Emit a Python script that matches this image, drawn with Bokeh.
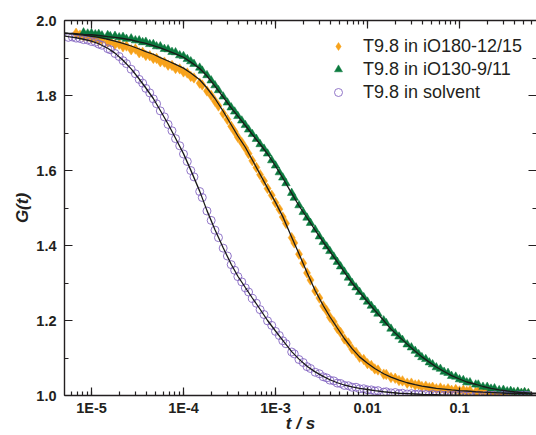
from bokeh.plotting import figure
from bokeh.models import (Range1d, LogAxis, LinearAxis, LogTicker, SingleIntervalTicker,
                          PrintfTickFormatter, CustomJSTickFormatter, Legend, LegendItem)
from bokeh.embed import file_html
from bokeh.resources import INLINE

nan = float("nan")

# measured lag times / s (one row per decade)
t_data = [5.6e-6, 6.2e-6, 6.8e-6, 7.5e-6, 8.2e-6, 9.1e-6,
          1e-5, 1.1e-5, 1.2e-5, 1.3e-5, 1.5e-5, 1.6e-5, 1.8e-5, 2e-5, 2.2e-5, 2.4e-5, 2.7e-5, 3e-5,
          3.3e-5, 3.6e-5, 3.9e-5, 4.3e-5, 4.7e-5, 5.1e-5, 5.6e-5, 6.2e-5, 6.8e-5, 7.5e-5, 8.2e-5, 9.1e-5,
          1e-4, 1.1e-4, 1.2e-4, 1.3e-4, 1.5e-4, 1.6e-4, 1.8e-4, 2e-4, 2.2e-4, 2.4e-4, 2.7e-4, 3e-4,
          3.3e-4, 3.6e-4, 3.9e-4, 4.3e-4, 4.7e-4, 5.1e-4, 5.6e-4, 6.2e-4, 6.8e-4, 7.5e-4, 8.2e-4, 9.1e-4,
          1e-3, 1.1e-3, 1.2e-3, 1.3e-3, 1.5e-3, 1.6e-3, 1.8e-3, 2e-3, 2.2e-3, 2.4e-3, 2.7e-3, 3e-3,
          3.3e-3, 3.6e-3, 3.9e-3, 4.3e-3, 4.7e-3, 5.1e-3, 5.6e-3, 6.2e-3, 6.8e-3, 7.5e-3, 8.2e-3, 9.1e-3,
          0.01, 0.011, 0.012, 0.013, 0.015, 0.016, 0.018, 0.02, 0.022, 0.024, 0.027, 0.03,
          0.033, 0.036, 0.039, 0.043, 0.047, 0.051, 0.056, 0.062, 0.068, 0.075, 0.082, 0.091,
          0.1, 0.11, 0.12, 0.13, 0.15, 0.16, 0.18, 0.2, 0.22, 0.24, 0.27, 0.3,
          0.33, 0.36, 0.39, 0.43, 0.47, 0.51, 0.56]

# T9.8 in iO180-12/15 (orange diamonds)
g_orange = [nan, nan, 1.966, 1.961, 1.958, 1.957,
            1.952, 1.953, 1.947, 1.949, 1.942, 1.944, 1.936, 1.937, 1.930, 1.932, 1.922, 1.924,
            1.914, 1.915, 1.907, 1.906, 1.899, 1.899, 1.890, 1.889, 1.881, 1.880, 1.872, 1.871,
            1.863, 1.860, 1.851, 1.847, 1.833, 1.828, 1.812, 1.800, 1.785, 1.772, 1.752, 1.736,
            1.718, 1.704, 1.689, 1.675, 1.660, 1.645, 1.626, 1.608, 1.589, 1.572, 1.552, 1.534,
            1.514, 1.497, 1.476, 1.459, 1.421, 1.407, 1.377, 1.353, 1.327, 1.308, 1.279, 1.260,
            1.239, 1.226, 1.209, 1.196, 1.179, 1.168, 1.151, 1.140, 1.124, 1.115, 1.102, 1.096,
            1.085, 1.080, 1.071, 1.068, 1.057, 1.056, 1.048, 1.046, 1.040, 1.039, 1.033, 1.033,
            1.028, 1.029, 1.024, 1.025, 1.021, 1.022, 1.018, 1.020, 1.016, 1.018, 1.014, 1.016,
            1.012, 1.014, 1.011, 1.013, 1.009, 1.011, 1.008, 1.010, 1.007, 1.009, 1.006, 1.008,
            1.005, 1.007, 1.005, 1.007, 1.004, 1.006, 1.004]

# T9.8 in iO130-9/11 (green triangles)
g_green = [nan, nan, nan, nan, 1.968, 1.965,
           1.966, 1.963, 1.964, 1.960, 1.961, 1.958, 1.959, 1.955, 1.956, 1.951, 1.952, 1.947,
           1.947, 1.942, 1.943, 1.937, 1.937, 1.931, 1.931, 1.924, 1.923, 1.916, 1.915, 1.907,
           1.905, 1.897, 1.891, 1.884, 1.874, 1.866, 1.854, 1.840, 1.827, 1.814, 1.797, 1.781,
           1.768, 1.757, 1.745, 1.733, 1.721, 1.709, 1.697, 1.684, 1.670, 1.658, 1.645, 1.627,
           1.613, 1.595, 1.581, 1.566, 1.540, 1.527, 1.507, 1.489, 1.474, 1.460, 1.442, 1.424,
           1.409, 1.397, 1.385, 1.370, 1.356, 1.344, 1.330, 1.314, 1.300, 1.288, 1.276, 1.262,
           1.250, 1.239, 1.228, 1.218, 1.200, 1.193, 1.178, 1.166, 1.157, 1.148, 1.136, 1.128,
           1.119, 1.110, 1.102, 1.097, 1.088, 1.083, 1.075, 1.071, 1.063, 1.060, 1.052, 1.050,
           1.043, 1.041, 1.035, 1.035, 1.029, 1.029, 1.023, 1.023, 1.018, 1.019, 1.014, 1.015,
           1.011, 1.012, 1.009, 1.010, 1.007, 1.009, 1.006]

# T9.8 in solvent (purple open circles)
g_purple = [1.955, 1.956, 1.953, 1.952, 1.949, 1.948,
            1.944, 1.942, 1.937, 1.934, 1.925, 1.922, 1.912, 1.904, 1.893, 1.885, 1.870, 1.858,
            1.843, 1.833, 1.819, 1.807, 1.791, 1.778, 1.759, 1.743, 1.723, 1.706, 1.685, 1.666,
            1.644, 1.624, 1.600, 1.583, 1.544, 1.528, 1.492, 1.467, 1.441, 1.421, 1.393, 1.372,
            1.349, 1.334, 1.317, 1.303, 1.287, 1.276, 1.259, 1.246, 1.229, 1.216, 1.199, 1.187,
            1.171, 1.160, 1.146, 1.138, 1.116, 1.111, 1.096, 1.088, 1.077, 1.072, 1.062, 1.058,
            1.050, 1.047, 1.041, 1.039, 1.033, 1.032, 1.027, 1.026, 1.022, 1.022, 1.018, 1.018,
            1.015, 1.015, 1.012, 1.013, 1.009, 1.010, 1.007, 1.008, 1.005, 1.006, 1.004, 1.005,
            1.003, 1.004, 1.002, 1.003, 1.001, 1.003, 1.001, 1.002, 1.000, 1.002, 1.000, 1.002,
            1.000, 1.001, 0.999, 1.001, 1.000, 1.001, 0.999, 1.001, 1.000, 1.001, 0.999, 1.001,
            1.000, 1.001, 0.999, 1.001, 1.000, 1.001, 1.000]

# fitted curves, evaluated on a coarser lag-time grid
t_fit = [4.7e-6, 5.6e-6, 6.8e-6, 8.2e-6,
         1e-5, 1.2e-5, 1.5e-5, 1.8e-5, 2.2e-5, 2.7e-5, 3.3e-5, 3.9e-5, 4.7e-5, 5.6e-5, 6.8e-5, 8.2e-5,
         1e-4, 1.2e-4, 1.5e-4, 1.8e-4, 2.2e-4, 2.7e-4, 3.3e-4, 3.9e-4, 4.7e-4, 5.6e-4, 6.8e-4, 8.2e-4,
         1e-3, 1.2e-3, 1.5e-3, 1.8e-3, 2.2e-3, 2.7e-3, 3.3e-3, 3.9e-3, 4.7e-3, 5.6e-3, 6.8e-3, 8.2e-3,
         0.01, 0.012, 0.015, 0.018, 0.022, 0.027, 0.033, 0.039, 0.047, 0.056, 0.068, 0.082,
         0.1, 0.12, 0.15, 0.18, 0.22, 0.27, 0.33, 0.39, 0.47, 0.56, 0.68]
fit_orange = [1.966, 1.965, 1.963, 1.961,
              1.958, 1.955, 1.950, 1.945, 1.939, 1.932, 1.924, 1.917, 1.910, 1.901, 1.892, 1.883,
              1.873, 1.860, 1.842, 1.820, 1.792, 1.758, 1.722, 1.692, 1.662, 1.628, 1.590, 1.553,
              1.515, 1.477, 1.422, 1.378, 1.328, 1.280, 1.240, 1.210, 1.180, 1.152, 1.125, 1.103,
              1.086, 1.072, 1.058, 1.049, 1.041, 1.034, 1.029, 1.025, 1.022, 1.019, 1.017, 1.015,
              1.013, 1.012, 1.010, 1.009, 1.008, 1.007, 1.006, 1.006, 1.005, 1.005, 1.005]
fit_green = [1.967, 1.966, 1.965, 1.963,
             1.962, 1.960, 1.957, 1.955, 1.952, 1.948, 1.943, 1.939, 1.933, 1.927, 1.919, 1.911,
             1.902, 1.889, 1.872, 1.852, 1.825, 1.796, 1.767, 1.745, 1.720, 1.696, 1.670, 1.644,
             1.612, 1.580, 1.539, 1.506, 1.474, 1.441, 1.409, 1.384, 1.356, 1.329, 1.300, 1.275,
             1.250, 1.227, 1.200, 1.177, 1.157, 1.137, 1.118, 1.103, 1.089, 1.076, 1.064, 1.053,
             1.044, 1.036, 1.030, 1.024, 1.019, 1.015, 1.012, 1.010, 1.008, 1.007, 1.006]
fit_purple = [1.960, 1.957, 1.954, 1.950,
              1.945, 1.938, 1.926, 1.913, 1.894, 1.871, 1.844, 1.820, 1.792, 1.760, 1.724, 1.686,
              1.645, 1.601, 1.545, 1.493, 1.442, 1.394, 1.350, 1.318, 1.288, 1.260, 1.230, 1.200,
              1.172, 1.147, 1.117, 1.097, 1.078, 1.063, 1.051, 1.042, 1.034, 1.028, 1.023, 1.019,
              1.016, 1.013, 1.010, 1.008, 1.006, 1.005, 1.004, 1.003, 1.002, 1.002, 1.001, 1.001,
              1.001, 1.000, 1.000, 1.000, 1.000, 1.000, 1.000, 1.000, 1.000, 1.000, 1.000]

labels = ["T9.8 in iO180-12/15", "T9.8 in iO130-9/11", "T9.8 in solvent"]

FONT = "Liberation Sans"
INK = "#231f20"

p = figure(width=536, height=435, x_axis_type="log",
           x_range=Range1d(5.09e-6, 0.687), y_range=Range1d(1.0, 2.0),
           output_backend="svg", toolbar_location=None, tools="",
           min_border_left=64, min_border_right=0, min_border_top=20, min_border_bottom=40)
p.outline_line_color = None
p.xgrid.visible = False
p.ygrid.visible = False
p.background_fill_color = "white"
p.border_fill_color = "white"

r_or = p.scatter(t_data, g_orange, marker="diamond", size=10.5,
                 fill_color="#f7a21b", line_color="#f7a21b", line_width=0.5)
r_gr = p.scatter(t_data, g_green, marker="triangle", size=8.5, fill_color="#0b7a3e",
                 line_color="#0b7a3e", line_width=0.5)
r_pu = p.scatter(t_data, g_purple, marker="circle", size=8, fill_color=None,
                 line_color="#8466c2", line_width=0.9)
for fit in (fit_orange, fit_green, fit_purple):
    p.line(t_fit, fit, line_color="#1a1a1a", line_width=1.3)

xt = LogTicker(num_minor_ticks=10)
yt = SingleIntervalTicker(interval=0.2, num_minor_ticks=2)

xa = p.xaxis[0]
xa.ticker = xt
xa.formatter = CustomJSTickFormatter(code="""
const e = Math.round(Math.log10(tick));
if (e <= -3) return "1E" + e;
return tick.toFixed(-e);
""")
ya = p.yaxis[0]
ya.ticker = yt
ya.formatter = PrintfTickFormatter(format="%.1f")

def style_ticks(ax, line_color=INK):
    ax.axis_line_color = line_color
    ax.axis_line_width = 1.4
    ax.major_tick_line_color = INK
    ax.minor_tick_line_color = INK
    ax.major_tick_line_width = 1.2
    ax.minor_tick_line_width = 1.2
    ax.major_tick_in = 8
    ax.major_tick_out = 0
    ax.minor_tick_in = 4
    ax.minor_tick_out = 0

for ax in (xa, ya):
    style_ticks(ax)
    ax.major_label_text_font = FONT
    ax.major_label_text_font_style = "bold"
    ax.major_label_text_font_size = "14.5px"
    ax.major_label_text_color = INK
    ax.axis_label_text_font = FONT
    ax.axis_label_text_font_style = "bold italic"
    ax.axis_label_text_font_size = "17px"
    ax.axis_label_text_color = INK

xa.axis_label = "t / s"
xa.major_label_standoff = 4
xa.axis_label_standoff = -5
ya.axis_label = "G(t)"
ya.major_label_standoff = 8
ya.axis_label_standoff = 1

top = LogAxis(ticker=xt)
right = LinearAxis(ticker=yt)
style_ticks(top)
style_ticks(right, None)
for ax in (top, right):
    ax.major_label_text_font_size = "1px"
    ax.major_label_text_color = None
    ax.major_label_standoff = 0
p.add_layout(top, "above")
p.add_layout(right, "right")

legend = Legend(items=[LegendItem(label=labels[0], renderers=[r_or]),
                       LegendItem(label=labels[1], renderers=[r_gr]),
                       LegendItem(label=labels[2], renderers=[r_pu])],
                location=(264, 292))
legend.border_line_color = None
legend.background_fill_alpha = 0
legend.padding = 0
legend.margin = 0
legend.glyph_width = 20
legend.glyph_height = 22
legend.label_height = 22
legend.label_standoff = 15
legend.spacing = 1
legend.label_text_font = FONT
legend.label_text_font_size = "18px"
legend.label_text_color = INK
p.add_layout(legend)

open("out.html", "w").write(file_html(p, INLINE))
